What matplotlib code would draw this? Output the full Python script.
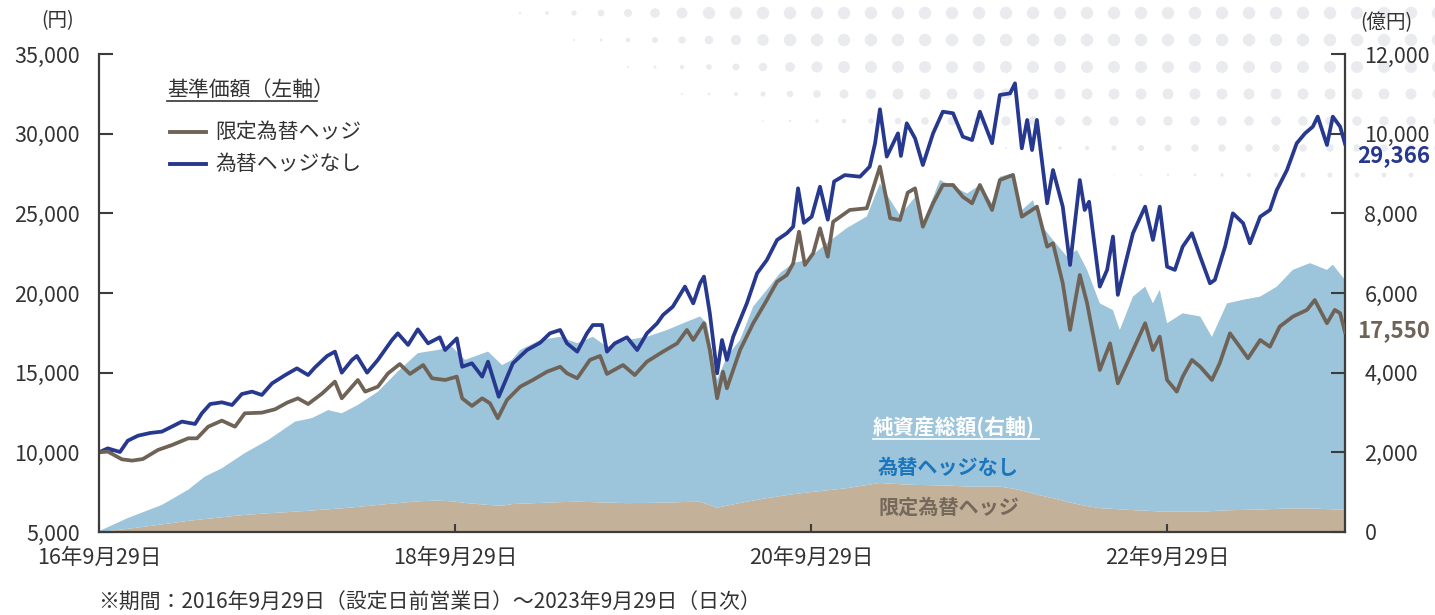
import matplotlib
matplotlib.use("Agg")
import matplotlib.pyplot as plt
import numpy as np
import pandas as pd
from matplotlib.lines import Line2D

plt.rcParams['font.family'] = ['Noto Sans CJK JP', 'DejaVu Sans']

# ---------------- data ----------------
# 基準価額 為替ヘッジなし (円)
unhedged_dates = [
    "2016-09-29", "2016-10-17", "2016-11-11", "2016-11-27", "2016-12-18", "2017-01-12", "2017-02-05",
    "2017-03-04", "2017-03-18", "2017-04-14", "2017-04-28", "2017-05-15", "2017-06-08", "2017-06-29",
    "2017-07-19", "2017-08-09", "2017-08-29", "2017-09-19", "2017-10-16", "2017-11-09", "2017-12-02",
    "2017-12-16", "2018-01-10", "2018-01-26", "2018-02-09", "2018-03-02", "2018-03-12", "2018-04-02",
    "2018-04-24", "2018-05-23", "2018-06-04", "2018-06-25", "2018-07-15", "2018-08-05", "2018-08-29",
    "2018-09-09", "2018-10-03", "2018-10-14", "2018-11-03", "2018-11-24", "2018-12-06", "2018-12-28",
    "2019-01-26", "2019-02-24", "2019-03-23", "2019-04-12", "2019-05-03", "2019-05-17", "2019-06-07",
    "2019-06-27", "2019-07-09", "2019-07-28", "2019-08-07", "2019-08-23", "2019-09-17", "2019-10-08",
    "2019-10-28", "2019-11-18", "2019-11-30", "2019-12-20", "2020-01-14", "2020-01-31", "2020-02-14",
    "2020-02-22", "2020-03-05", "2020-03-20", "2020-03-30", "2020-04-09", "2020-04-22", "2020-05-20",
    "2020-06-10", "2020-06-30", "2020-07-21", "2020-08-10", "2020-08-23", "2020-09-02", "2020-09-14",
    "2020-09-30", "2020-10-17", "2020-11-02", "2020-11-15", "2020-12-07", "2021-01-07", "2021-01-27",
    "2021-02-07", "2021-02-17", "2021-03-03", "2021-03-26", "2021-04-01", "2021-04-13", "2021-04-30",
    "2021-05-16", "2021-06-06", "2021-06-26", "2021-07-17", "2021-08-06", "2021-08-25", "2021-09-10",
    "2021-10-05", "2021-10-21", "2021-11-11", "2021-11-21", "2021-12-05", "2021-12-16", "2021-12-26",
    "2022-01-05", "2022-01-26", "2022-02-07", "2022-02-27", "2022-03-14", "2022-04-03", "2022-04-13",
    "2022-04-22", "2022-05-14", "2022-05-29", "2022-06-10", "2022-06-20", "2022-07-09", "2022-07-21",
    "2022-08-15", "2022-08-31", "2022-09-14", "2022-09-29", "2022-10-15", "2022-10-31", "2022-11-19",
    "2022-12-06", "2022-12-26", "2023-01-05", "2023-01-26", "2023-02-11", "2023-03-04", "2023-03-18",
    "2023-04-08", "2023-04-28", "2023-05-12", "2023-06-02", "2023-06-22", "2023-07-09", "2023-07-25",
    "2023-08-04", "2023-08-23", "2023-09-04", "2023-09-19", "2023-09-29",
]
unhedged_price = [
    10000, 10250, 10020, 10730, 11045, 11215, 11300,
    11720, 11930, 11780, 12450, 13030, 13140, 12970,
    13660, 13810, 13600, 14330, 14850, 15270, 14850,
    15330, 16050, 16320, 15000, 15800, 16050, 15000,
    15800, 17050, 17470, 16740, 17720, 16840, 17220,
    16420, 17150, 15370, 15590, 14750, 15690, 13490,
    15590, 16420, 16880, 17470, 17680, 16840, 16320,
    17470, 17990, 17990, 16320, 16840, 17220, 16420,
    17470, 18100, 18620, 19140, 20400, 19350, 20610,
    21030, 18730, 14960, 17050, 15800, 17260, 19350,
    21240, 22070, 23330, 23750, 24160, 26570, 24400,
    24790, 26670, 24600, 27000, 27400, 27300, 27930,
    29400, 31530, 28560, 30020, 28600, 30650, 29710,
    28030, 30020, 31380, 31280, 29810, 29600, 31380,
    29400, 32430, 32530, 33160, 29080, 30860, 28970,
    30860, 25630, 27720, 25420, 21760, 27090, 25210,
    25730, 20400, 21450, 23540, 19880, 22280, 23750,
    25420, 23330, 25420, 21650, 21450, 22910, 23750,
    22280, 20610, 20820, 22910, 25000, 24380, 23120,
    24790, 25210, 26460, 27720, 29400, 30020, 30440,
    31070, 29290, 31070, 30440, 29366,
]

# 基準価額 限定為替ヘッジ (円)
hedged_dates = [
    "2016-09-29", "2016-10-17", "2016-11-15", "2016-12-06", "2016-12-28", "2017-01-28", "2017-02-26",
    "2017-03-31", "2017-04-18", "2017-05-11", "2017-06-08", "2017-07-05", "2017-07-25", "2017-08-29",
    "2017-09-25", "2017-10-20", "2017-11-11", "2017-12-02", "2017-12-31", "2018-01-26", "2018-02-09",
    "2018-03-02", "2018-03-14", "2018-03-29", "2018-04-24", "2018-05-15", "2018-06-08", "2018-06-29",
    "2018-07-26", "2018-08-13", "2018-09-09", "2018-10-03", "2018-10-14", "2018-11-03", "2018-11-24",
    "2018-12-10", "2018-12-26", "2019-01-14", "2019-02-10", "2019-03-08", "2019-04-06", "2019-05-03",
    "2019-05-17", "2019-06-07", "2019-07-03", "2019-07-24", "2019-08-07", "2019-09-09", "2019-10-03",
    "2019-10-28", "2019-11-30", "2019-12-29", "2020-01-18", "2020-01-31", "2020-02-22", "2020-03-05",
    "2020-03-20", "2020-04-01", "2020-04-09", "2020-05-06", "2020-06-02", "2020-06-30", "2020-07-21",
    "2020-08-10", "2020-08-23", "2020-09-04", "2020-09-16", "2020-10-03", "2020-10-17", "2020-11-02",
    "2020-11-13", "2020-12-17", "2021-01-21", "2021-02-17", "2021-03-10", "2021-03-30", "2021-04-15",
    "2021-04-30", "2021-05-16", "2021-06-06", "2021-06-26", "2021-07-17", "2021-08-06", "2021-08-25",
    "2021-09-10", "2021-10-05", "2021-10-21", "2021-11-17", "2021-12-05", "2021-12-26", "2022-01-05",
    "2022-01-26", "2022-02-07", "2022-02-27", "2022-03-14", "2022-04-03", "2022-04-18", "2022-05-14",
    "2022-06-04", "2022-06-20", "2022-07-15", "2022-08-15", "2022-08-31", "2022-09-14", "2022-09-29",
    "2022-10-19", "2022-10-31", "2022-11-19", "2022-12-06", "2022-12-30", "2023-01-15", "2023-02-05",
    "2023-02-25", "2023-03-14", "2023-04-08", "2023-04-28", "2023-05-18", "2023-06-14", "2023-07-13",
    "2023-07-29", "2023-08-23", "2023-09-08", "2023-09-19", "2023-09-29",
]
hedged_price = [
    10000, 10050, 9560, 9480, 9580, 10150, 10460,
    10880, 10880, 11610, 11990, 11610, 12450, 12490,
    12700, 13120, 13390, 13030, 13700, 14440, 13390,
    14120, 14540, 13810, 14120, 14960, 15540, 14920,
    15480, 14650, 14540, 14750, 13390, 12910, 13390,
    13080, 12140, 13290, 14120, 14540, 15060, 15370,
    14960, 14650, 15800, 16050, 14920, 15480, 14850,
    15690, 16320, 16840, 17680, 17050, 18100, 16420,
    13390, 15060, 14020, 16420, 18100, 19560, 20710,
    21130, 21860, 23850, 21760, 22490, 24060, 22280,
    24470, 25210, 25320, 27930, 24690, 24580, 26300,
    26570, 24160, 25630, 26780, 26780, 26040, 25630,
    26780, 25210, 27090, 27410, 24790, 25210, 25420,
    22910, 23120, 20610, 17680, 21130, 19350, 15170,
    16840, 14330, 16000, 18100, 16420, 17260, 14540,
    13810, 14750, 15800, 15370, 14540, 15590, 17470,
    16630, 15900, 17050, 16630, 17890, 18520, 18940,
    19560, 18100, 18940, 18730, 17550,
]

# 純資産総額 (億円)
aum_dates = [
    "2016-09-29", "2016-11-27", "2017-02-05", "2017-03-31", "2017-05-04", "2017-06-08", "2017-07-25",
    "2017-09-11", "2017-11-05", "2017-12-10", "2018-01-12", "2018-02-09", "2018-03-14", "2018-04-24",
    "2018-06-04", "2018-07-15", "2018-08-25", "2018-09-23", "2018-10-20", "2018-12-06", "2019-01-04",
    "2019-01-24", "2019-02-10", "2019-03-23", "2019-05-03", "2019-06-07", "2019-07-09", "2019-08-07",
    "2019-09-17", "2019-10-28", "2019-12-08", "2020-01-18", "2020-02-14", "2020-02-28", "2020-03-20",
    "2020-04-09", "2020-05-06", "2020-06-02", "2020-06-30", "2020-07-27", "2020-08-23", "2020-09-20",
    "2020-10-31", "2020-12-11", "2021-01-21", "2021-02-17", "2021-03-30", "2021-05-04", "2021-05-16",
    "2021-06-20", "2021-07-17", "2021-08-15", "2021-09-10", "2021-10-05", "2021-10-21", "2021-11-17",
    "2021-12-05", "2021-12-28", "2022-01-11", "2022-02-07", "2022-03-08", "2022-03-28", "2022-04-18",
    "2022-05-14", "2022-06-10", "2022-06-24", "2022-07-21", "2022-08-15", "2022-08-31", "2022-09-14",
    "2022-09-29", "2022-10-31", "2022-12-06", "2022-12-30", "2023-01-30", "2023-03-04", "2023-04-08",
    "2023-05-12", "2023-06-14", "2023-07-19", "2023-08-23", "2023-09-04", "2023-09-29",
]
aum_hedged = [
    0, 80, 190, 280, 325, 370, 430,
    470, 510, 540, 570, 595, 630, 680,
    725, 770, 790, 770, 730, 680, 660,
    700, 710, 730, 750, 760, 750, 740,
    725, 730, 740, 755, 760, 700, 610,
    660, 730, 790, 850, 900, 950, 990,
    1045, 1100, 1180, 1230, 1200, 1180, 1180,
    1170, 1160, 1140, 1140, 1140, 1140, 1090,
    1040, 970, 920, 850, 760, 700, 650,
    600, 580, 570, 550, 535, 525, 515,
    510, 510, 510, 525, 545, 555, 565,
    580, 595, 590, 575, 570, 560,
]
aum_unhedged = [
    20, 270, 490, 780, 1065, 1230, 1550,
    1840, 2260, 2320, 2490, 2385, 2560, 2840,
    3305, 3720, 3780, 3880, 3590, 3850, 3530,
    3620, 3860, 4090, 4150, 3980, 4150, 3910,
    4095, 4170, 4330, 4525, 4650, 4540, 3210,
    3740, 4090, 4870, 5230, 5600, 5800, 5840,
    6205, 6530, 6740, 7520, 6750, 7280, 6570,
    7670, 7510, 7360, 7570, 7110, 7780, 7920,
    7040, 7360, 6830, 6480, 6150, 6380, 5930,
    5140, 4990, 4500, 5360, 5625, 5215, 5565,
    4730, 4980, 4900, 4375, 5195, 5275, 5345,
    5580, 5985, 6160, 6005, 6140, 5770,
]

left_ticks = [5000, 10000, 15000, 20000, 25000, 30000, 35000]
right_ticks = [0, 2000, 4000, 6000, 8000, 10000, 12000]
x_tick_dates = ["2016-09-29", "2018-09-29", "2020-09-29", "2022-09-29"]
x_tick_labels = ["16年9月29日", "18年9月29日", "20年9月29日", "22年9月29日"]
period = ("2016-09-29", "2023-09-29")

# ---------------- style ----------------
NAVY = "#27388f"
BROWN = "#6f6357"
LIGHTBLUE = "#9cc4da"
TAN = "#c3b199"
AXIS = "#3c3c3c"
TEXT = "#333333"

W, H = 1435, 615
fig = plt.figure(figsize=(W / 100, H / 100), dpi=100)


def fx(px):
    return px / W


def fy(py):
    return 1 - py / H


# decorative dotted background (top right)
bg = fig.add_axes([0, 0, 1, 1], zorder=0)
bg.set_xlim(0, W)
bg.set_ylim(H, 0)
bg.axis("off")
rows_y = [13, 40, 67, 94, 121, 148, 175]
row_start = [503, 571, 625, 679, 762, 977, 1084]
row_max = [12.5, 12.5, 12, 11, 9.5, 7.5, 5]
cols = np.arange(1438, 480, -27.0)
for yy, xs, dmax in zip(rows_y, row_start, row_max):
    xx = cols[cols >= xs]
    d = dmax * np.clip((xx - xs + 30) / 240.0, 0.18, 1.0)
    bg.scatter(xx, np.full_like(xx, yy), s=(d * 0.72) ** 2, color="#e9ebee", lw=0)

rect = [fx(99), fy(532), fx(1345) - fx(99), fy(54) - fy(532)]
axL = fig.add_axes(rect, zorder=2)
axR = axL.twinx()
axR.set_zorder(1)
axL.set_zorder(2)
axL.patch.set_visible(False)
axR.patch.set_visible(False)

aum_d = pd.to_datetime(aum_dates)
axR.stackplot(aum_d, aum_hedged, aum_unhedged, colors=[TAN, LIGHTBLUE], lw=0)

axL.plot(pd.to_datetime(unhedged_dates), unhedged_price, color=NAVY, lw=2.7,
         solid_joinstyle="round")
axL.plot(pd.to_datetime(hedged_dates), hedged_price, color=BROWN, lw=2.7,
         solid_joinstyle="round")

axL.set_xlim(pd.Timestamp(period[0]), pd.Timestamp(period[1]))
axL.set_ylim(5000, 35000)
axR.set_ylim(0, 12000)

axL.set_yticks(left_ticks)
axL.set_yticklabels([f"{v:,}" for v in left_ticks])
axR.set_yticks(right_ticks)
axR.set_yticklabels([f"{v:,}" for v in right_ticks])
axL.set_xticks(pd.to_datetime(x_tick_dates))
axL.set_xticklabels(x_tick_labels)

for ax in (axL, axR):
    for s in ax.spines.values():
        s.set_visible(False)
axL.spines["left"].set_visible(True)
axL.spines["bottom"].set_visible(True)
axR.spines["right"].set_visible(True)
for s in (axL.spines["left"], axL.spines["bottom"], axR.spines["right"]):
    s.set_color(AXIS)
    s.set_linewidth(1.6)

axL.tick_params(axis="y", direction="in", length=10, width=1.5, color=AXIS,
                pad=14, labelsize=15.5, labelcolor=TEXT)
axR.tick_params(axis="y", direction="in", length=10, width=1.5, color=AXIS,
                pad=14, labelsize=15.5, labelcolor=TEXT)
axL.tick_params(axis="x", direction="in", length=6, width=1.5, color=AXIS,
                pad=11, labelsize=15.5, labelcolor=TEXT)

# unit labels
fig.text(fx(58), fy(21), "(円)", ha="center", va="center", fontsize=14, color=TEXT)
fig.text(fx(1386), fy(23), "(億円)", ha="center", va="center", fontsize=14, color=TEXT)

# legend (基準価額)
fig.text(fx(167), fy(90), "基準価額（左軸）", ha="left", va="center", fontsize=15, color=TEXT)
fig.add_artist(Line2D([fx(167), fx(317)], [fy(101), fy(101)], color=TEXT, lw=1.2))
fig.add_artist(Line2D([fx(170), fx(206)], [fy(132), fy(132)], color=BROWN, lw=2.8))
fig.add_artist(Line2D([fx(170), fx(206)], [fy(164), fy(164)], color=NAVY, lw=2.8))
fig.text(fx(215), fy(132), "限定為替ヘッジ", ha="left", va="center", fontsize=15, color=TEXT)
fig.text(fx(215), fy(164), "為替ヘッジなし", ha="left", va="center", fontsize=15, color=TEXT)

# area labels
fig.text(fx(873), fy(427), "純資産総額(右軸)", ha="left", va="center", fontsize=15,
         color="white", fontweight="bold")
fig.add_artist(Line2D([fx(873), fx(1039)], [fy(439), fy(439)], color="white", lw=1.2))
fig.text(fx(878), fy(467), "為替ヘッジなし", ha="left", va="center", fontsize=14.5,
         color="#1b76bd", fontweight="bold")
fig.text(fx(878), fy(507), "限定為替ヘッジ", ha="left", va="center", fontsize=14.5,
         color="#75695c", fontweight="bold")

# end values
fig.text(fx(1357), fy(156), f"{unhedged_price[-1]:,}", ha="left", va="center",
         fontsize=16, color=NAVY, fontweight="bold")
fig.text(fx(1357), fy(331), f"{hedged_price[-1]:,}", ha="left", va="center",
         fontsize=16, color=BROWN, fontweight="bold")

# footnote
fig.text(fx(98), fy(603), "※期間：2016年9月29日（設定日前営業日）～2023年9月29日（日次）",
         ha="left", va="center", fontsize=15, color=TEXT)

fig.savefig("out.png", dpi=100)
